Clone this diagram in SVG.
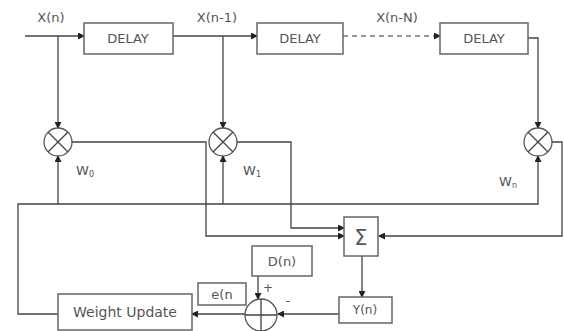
<svg xmlns="http://www.w3.org/2000/svg" width="564" height="331" viewBox="0 0 564 331">
<defs>
<style>
.box{fill:#fff;stroke:#666;stroke-width:1.5}
.ln{fill:none;stroke:#444;stroke-width:1.3}
.dash{fill:none;stroke:#777;stroke-width:1.3;stroke-dasharray:5 4}
.t{font-family:"DejaVu Sans",sans-serif;fill:#555;text-anchor:middle}
.circ{fill:#fff;stroke:#555;stroke-width:1.3}
</style>
<marker id="ar" markerWidth="7" markerHeight="7" refX="6" refY="3.5" orient="auto" markerUnits="userSpaceOnUse">
<path d="M0,0 L7,3.5 L0,7 Z" fill="#222"/>
</marker>
</defs>
<rect width="564" height="331" fill="#fff"/>
<g id="connectors">
<path class="ln" d="M25,36 H84" marker-end="url(#ar)"/>
<path class="ln" d="M173,36 H257" marker-end="url(#ar)"/>
<path class="dash" d="M343,36 H440" marker-end="url(#ar)"/>
<path class="ln" d="M528,38 H538 V128" marker-end="url(#ar)"/>
<path class="ln" d="M58,36 V128" marker-end="url(#ar)"/>
<path class="ln" d="M223,36 V128" marker-end="url(#ar)"/>
<path class="ln" d="M71,142 H206 V236 H344" marker-end="url(#ar)"/>
<path class="ln" d="M237,142 H291 V228 H344" marker-end="url(#ar)"/>
<path class="ln" d="M552,142 H562 V236 H379" marker-end="url(#ar)"/>
<path class="ln" d="M58,314 H18 V204 H538 V156" marker-end="url(#ar)"/>
<path class="ln" d="M58,204 V156" marker-end="url(#ar)"/>
<path class="ln" d="M223,204 V156" marker-end="url(#ar)"/>
<path class="ln" d="M362,256 V297" marker-end="url(#ar)"/>
<path class="ln" d="M339,314 H278" marker-end="url(#ar)"/>
<path class="ln" d="M245,314 H192" marker-end="url(#ar)"/>
<path class="ln" d="M258,276 V299" marker-end="url(#ar)"/>
</g>
<g id="labels">
<text class="t" x="51" y="22" font-size="13">X(n)</text>
<text class="t" x="217" y="22" font-size="13">X(n-1)</text>
<text class="t" x="397" y="22" font-size="13">X(n-N)</text>
<text class="t" x="85" y="175" font-size="13">W<tspan font-size="8" dy="2">0</tspan></text>
<text class="t" x="252" y="175" font-size="13">W<tspan font-size="8" dy="2">1</tspan></text>
<text class="t" x="508" y="186" font-size="13">W<tspan font-size="8" dy="2">n</tspan></text>
<text class="t" x="268" y="292" font-size="12">+</text>
<text class="t" x="288" y="305" font-size="12">-</text>
</g>
<g id="delay1"><rect class="box" x="84" y="23" width="89" height="31"/><text class="t" x="128" y="43" font-size="13">DELAY</text></g>
<g id="delay2"><rect class="box" x="257" y="23" width="86" height="31"/><text class="t" x="300" y="43" font-size="13">DELAY</text></g>
<g id="delay3"><rect class="box" x="440" y="23" width="88" height="31"/><text class="t" x="484" y="43" font-size="13">DELAY</text></g>
<g id="mult0"><circle class="circ" cx="58" cy="142" r="14"/><path class="ln" d="M48,132 L68,152 M68,132 L48,152" stroke="#666"/></g>
<g id="mult1"><circle class="circ" cx="223" cy="142" r="14"/><path class="ln" d="M213,132 L233,152 M233,132 L213,152" stroke="#666"/></g>
<g id="multn"><circle class="circ" cx="538" cy="142" r="14"/><path class="ln" d="M528,132 L548,152 M548,132 L528,152" stroke="#666"/></g>
<g id="sigma"><rect class="box" x="344" y="217" width="34" height="39"/><text class="t" x="361" y="245" font-size="21" fill="#333">Σ</text></g>
<g id="yn"><rect class="box" x="339" y="297" width="53" height="26"/><text class="t" x="365" y="314" font-size="12">Y(n)</text></g>
<g id="dn"><rect class="box" x="252" y="246" width="60" height="30"/><text class="t" x="282" y="266" font-size="13">D(n)</text></g>
<g id="en"><rect class="box" x="198" y="283" width="48" height="22"/><text class="t" x="222" y="299" font-size="13">e(n</text></g>
<g id="adder"><circle class="circ" cx="261" cy="315" r="16"/><path class="ln" d="M261,299 V331 M245,315 H277"/></g>
<g id="weightupdate"><rect class="box" x="58" y="294" width="134" height="36"/><text class="t" x="125" y="317" font-size="14">Weight Update</text></g>
</svg>
